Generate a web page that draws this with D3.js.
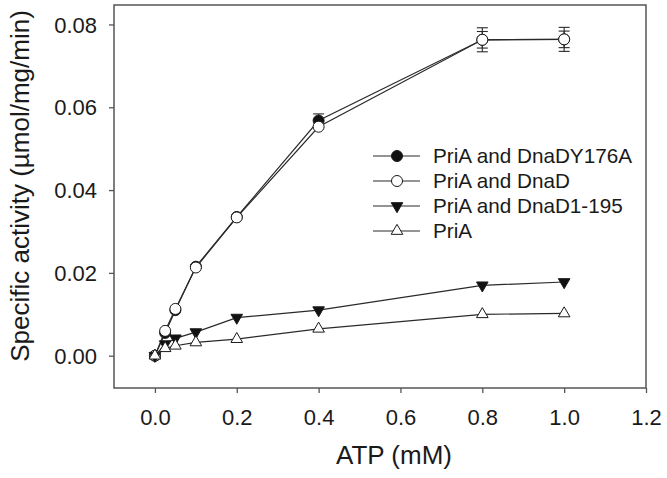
<!DOCTYPE html>
<html><head><meta charset="utf-8">
<script src="https://cdn.jsdelivr.net/npm/d3@7"></script>
<style>body{margin:0;background:#fff}svg{display:block}text{font-family:"Liberation Sans",Arial,sans-serif;fill:#1a1a1a}</style>
</head><body>
<svg id="c" width="667" height="478"></svg>
<script>
const atp = [0, 0.025, 0.05, 0.1, 0.2, 0.4, 0.8, 1.0];
const dnaDY176A = [0, 0.0055, 0.011, 0.0215, 0.0335, 0.0568, 0.0763, 0.0764];
const dnaDY176AErr = [0, 0, 0, 0.0004, 0.0004, 0.0016, 0.0029, 0.0029];
const dnaD = [0, 0.006, 0.0113, 0.0213, 0.0334, 0.0553, 0.0763, 0.0764];
const dnaDErr = [0, 0, 0, 0, 0, 0, 0.002, 0.002];
const dnaD1195 = [0, 0.0028, 0.0042, 0.0057, 0.0092, 0.0110, 0.0170, 0.0178];
const priA = [0, 0.0018, 0.0024, 0.0032, 0.0040, 0.0065, 0.0100, 0.0102];
const xTicks = [0.0, 0.2, 0.4, 0.6, 0.8, 1.0, 1.2];
const yTicks = [0.00, 0.02, 0.04, 0.06, 0.08];
const seriesNames = ["PriA and DnaDY176A", "PriA and DnaD", "PriA and DnaD1-195", "PriA"];

const svg = d3.select("#c");
const L = 114, R = 646, T = 5, B = 388;
const x = d3.scaleLinear().domain([-0.1, 1.2]).range([L, R]);
const y = d3.scaleLinear().domain([-0.0078, 0.0847]).range([B, T]);

// frame
svg.append("rect").attr("x", L).attr("y", T).attr("width", R - L).attr("height", B - T)
  .attr("fill", "none").attr("stroke", "#555").attr("stroke-width", 1.5);

const xAxis = svg.append("g").attr("transform", `translate(0,${B})`)
  .call(d3.axisBottom(x).tickValues(xTicks).tickFormat(d3.format(".1f")).tickSize(5).tickPadding(16));
const yAxis = svg.append("g").attr("transform", `translate(${L},0)`)
  .call(d3.axisLeft(y).tickValues(yTicks).tickFormat(d3.format(".2f")).tickSize(5).tickPadding(12));
[xAxis, yAxis].forEach(g => {
  g.select(".domain").remove();
  g.selectAll(".tick line").attr("stroke", "#555").attr("stroke-width", 1.3);
  g.selectAll(".tick text").style("font-size", "22px").attr("fill", "#1a1a1a");
});
yAxis.selectAll(".tick text").attr("dy", "0.35em");

svg.append("text").attr("x", 394).attr("y", 464).attr("text-anchor", "middle")
  .style("font-size", "26px").text("ATP (mM)");
svg.append("text").attr("transform", "translate(29,186) rotate(-90)").attr("text-anchor", "middle")
  .style("font-size", "26px").text("Specific activity (µmol/mg/min)");

const line = d3.line().x(d => x(d[0])).y(d => y(d[1]));
const lineColor = "#2a2a2a";
function drawSeries(vals, errs, marker) {
  const pts = atp.map((a, i) => [a, vals[i], errs ? errs[i] : 0]);
  svg.append("path").datum(pts).attr("d", line).attr("fill", "none")
    .attr("stroke", lineColor).attr("stroke-width", 1.2);
  if (errs) {
    const g = svg.append("g").attr("stroke", lineColor).attr("stroke-width", 1.1);
    pts.filter(p => p[2] > 0).forEach(p => {
      const cx = x(p[0]), y1 = y(p[1] + p[2]), y2 = y(p[1] - p[2]);
      g.append("line").attr("x1", cx).attr("x2", cx).attr("y1", y1).attr("y2", y2);
      g.append("line").attr("x1", cx - 5.5).attr("x2", cx + 5.5).attr("y1", y1).attr("y2", y1);
      g.append("line").attr("x1", cx - 5.5).attr("x2", cx + 5.5).attr("y1", y2).attr("y2", y2);
    });
  }
  pts.forEach(p => marker(svg, x(p[0]), y(p[1])));
}
function mCircle(fill) {
  return (g, cx, cy) => g.append("circle").attr("cx", cx).attr("cy", cy).attr("r", 5.5)
    .attr("fill", fill).attr("stroke", "#1a1a1a").attr("stroke-width", 1);
}
function mTri(down, fill) {
  return (g, cx, cy) => {
    const w = 5.8, h = 10;
    const pts = down ? [[cx - w, cy - h / 3], [cx + w, cy - h / 3], [cx, cy + 2 * h / 3]]
                     : [[cx - w, cy + h / 3], [cx + w, cy + h / 3], [cx, cy - 2 * h / 3]];
    g.append("polygon").attr("points", pts.map(p => p.join(",")).join(" "))
      .attr("fill", fill).attr("stroke", "#1a1a1a").attr("stroke-width", 1);
  };
}
const markers = [mCircle("#111"), mCircle("#fff"), mTri(true, "#111"), mTri(false, "#fff")];

drawSeries(dnaDY176A, dnaDY176AErr, markers[0]);
drawSeries(dnaD, dnaDErr, markers[1]);
drawSeries(dnaD1195, null, markers[2]);
drawSeries(priA, null, markers[3]);

// legend
const rows = [156, 181, 206, 231];
seriesNames.forEach((name, i) => {
  svg.append("line").attr("x1", 373).attr("x2", 420).attr("y1", rows[i]).attr("y2", rows[i])
    .attr("stroke", lineColor).attr("stroke-width", 1.2);
  markers[i](svg, 397, rows[i]);
  svg.append("text").attr("x", 433).attr("y", rows[i]).attr("dy", "0.35em")
    .style("font-size", "20.7px").text(name);
});
</script>
</body></html>
